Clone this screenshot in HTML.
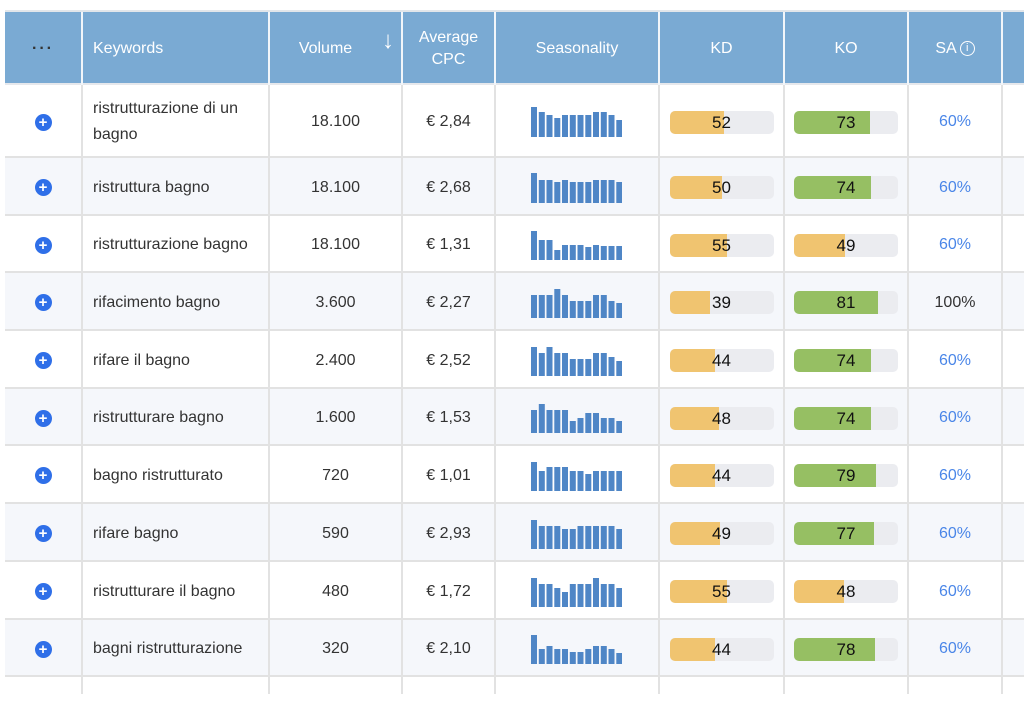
<!DOCTYPE html>
<html><head><meta charset="utf-8"><style>
*{margin:0;padding:0;box-sizing:border-box}
body{width:1024px;height:692px;background:#fff;font-family:"Liberation Sans",sans-serif;position:relative;overflow:hidden;color:#333}
.hdr{position:absolute;left:5px;top:10px;width:1019px;height:75px;background:#7aaad3;border-top:2px solid #e2e6ea;border-bottom:2px solid #e6e8ec}
.hc{position:absolute;top:0;height:73px;display:flex;align-items:center;justify-content:center;color:#fff;font-size:16px;text-align:center;line-height:22px;border-right:2px solid #f2f6fa}
.row{position:absolute;left:5px;width:1019px;border-bottom:2px solid #e2e2e2}
.alt{background:#f5f7fb}
.c{position:absolute;top:0;height:100%;display:flex;align-items:center;font-size:16px;border-right:2px solid #e2e2e2;padding-top:3px}
.ctr{justify-content:center}
.plus{width:17px;height:17px;border-radius:50%;background:#2f6fe8;color:#fff;font-size:15px;font-weight:bold;line-height:17px;text-align:center}
.bar{position:relative;width:104px;height:23px;border-radius:5px;background:#ebecf0;overflow:hidden}
.bar i{position:absolute;left:0;top:0;height:100%}
.bar span{position:relative;display:block;text-align:center;line-height:23px;font-size:17px;color:#111}
.o{background:#f0c470}.g{background:#96bf63}
.sa{color:#4a86e8}
</style></head><body>
<div class="hdr">
<div class="hc" style="left:0;width:78px;font-weight:bold;letter-spacing:2px;color:#333">···</div>
<div class="hc" style="left:78px;width:187px;justify-content:flex-start;padding-left:10px">Keywords</div>
<div class="hc" style="left:265px;width:133px;padding-right:20px">Volume<span style="position:absolute;right:7px;top:18px;font-size:24px">↓</span></div>
<div class="hc" style="left:398px;width:93px">Average<br>CPC</div>
<div class="hc" style="left:491px;width:164px">Seasonality</div>
<div class="hc" style="left:655px;width:125px">KD</div>
<div class="hc" style="left:780px;width:124px">KO</div>
<div class="hc" style="left:904px;width:94px">SA <span style="display:inline-block;width:15px;height:15px;border:1px solid #fff;border-radius:50%;font-size:11px;line-height:13px;margin-left:3px">i</span></div>
</div>
<div id="rows"></div>
<script>
var d=[
["ristrutturazione di un<br>bagno","18.100","€ 2,84",[30,25,22,19,22,22,22,22,25,25,22,17],52,73,"60%"],
["ristruttura bagno","18.100","€ 2,68",[30,23,23,21,23,21,21,21,23,23,23,21],50,74,"60%"],
["ristrutturazione bagno","18.100","€ 1,31",[29,20,20,10,15,15,15,13,15,14,14,14],55,49,"60%"],
["rifacimento bagno","3.600","€ 2,27",[23,23,23,29,23,17,17,17,23,23,17,15],39,81,"100%"],
["rifare il bagno","2.400","€ 2,52",[29,23,29,23,23,17,17,17,23,23,19,15],44,74,"60%"],
["ristrutturare bagno","1.600","€ 1,53",[23,29,23,23,23,12,15,20,20,15,15,12],48,74,"60%"],
["bagno ristrutturato","720","€ 1,01",[29,20,24,24,24,20,20,17,20,20,20,20],44,79,"60%"],
["rifare bagno","590","€ 2,93",[29,23,23,23,20,20,23,23,23,23,23,20],49,77,"60%"],
["ristrutturare il bagno","480","€ 1,72",[29,23,23,19,15,23,23,23,29,23,23,19],55,48,"60%"],
["bagni ristrutturazione","320","€ 2,10",[29,15,18,15,15,12,12,15,18,18,15,11],44,78,"60%"],
["","","",[],null,null,""]];
var tops=[85,158,216,273,331,389,446,504,562,620,677,694];
var h="";
d.forEach(function(r,i){
 var t=tops[i],ht=tops[i+1]-t;
 var s='<svg width="92" height="32">';
 r[3].forEach(function(v,j){s+='<rect x="'+(1+j*7.75).toFixed(1)+'" y="'+(31-v)+'" width="6" height="'+v+'" fill="#4f86c6"/>'});
 s+='</svg>';
 var kd=r[4]==null?"":'<div class="bar"><i class="o" style="width:'+r[4]+'%"></i><span>'+r[4]+'</span></div>';
 var ko=r[5]==null?"":'<div class="bar"><i class="'+(r[5]<50?'o':'g')+'" style="width:'+r[5]+'%"></i><span>'+r[5]+'</span></div>';
 h+='<div class="row'+(i%2?' alt':'')+'" style="top:'+t+'px;height:'+ht+'px'+(i==10?';border-bottom:none':'')+'">'+
 '<div class="c ctr" style="left:0;width:78px">'+(r[0]?'<div class="plus">+</div>':'')+'</div>'+
 '<div class="c" style="left:78px;width:187px;padding-left:10px;line-height:26px">'+r[0]+'</div>'+
 '<div class="c ctr" style="left:265px;width:133px">'+r[1]+'</div>'+
 '<div class="c ctr" style="left:398px;width:93px">'+r[2]+'</div>'+
 '<div class="c ctr" style="left:491px;width:164px;padding-right:2px">'+s+'</div>'+
 '<div class="c ctr" style="left:655px;width:125px">'+kd+'</div>'+
 '<div class="c ctr" style="left:780px;width:124px">'+ko+'</div>'+
 '<div class="c ctr'+(r[6]=="100%"?'':' sa')+'" style="left:904px;width:94px">'+r[6]+'</div>'+
 '</div>';
});
document.getElementById("rows").innerHTML=h;
</script>
</body></html>
